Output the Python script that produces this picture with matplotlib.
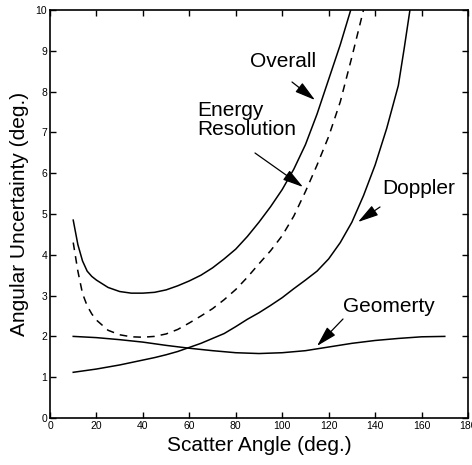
import matplotlib
matplotlib.use("Agg")
import matplotlib.pyplot as plt

# ---- data ----
overall_x = [10, 12, 14, 16, 18, 20, 25, 30, 35, 40, 45, 50, 55, 60, 65, 70, 75, 80, 85, 90,
             95, 100, 105, 110, 115, 120, 125, 129.5]
overall_y = [4.85, 4.25, 3.85, 3.6, 3.47, 3.38, 3.2, 3.1, 3.06, 3.06, 3.08, 3.14, 3.24, 3.36,
             3.5, 3.68, 3.9, 4.14, 4.45, 4.8, 5.18, 5.6, 6.1, 6.7, 7.45, 8.3, 9.15, 10.0]

energy_x = [10, 12, 14, 16, 18, 20, 25, 30, 35, 40, 45, 50, 55, 60, 65, 70, 75, 80, 85, 90,
            95, 100, 105, 110, 115, 120, 125, 130, 135]
energy_y = [4.3, 3.6, 3.05, 2.75, 2.55, 2.4, 2.15, 2.04, 1.99, 1.98, 2.0, 2.06, 2.17, 2.33,
            2.5, 2.68, 2.9, 3.15, 3.45, 3.78, 4.1, 4.47, 4.95, 5.55, 6.2, 6.9, 7.75, 8.85, 10.0]

doppler_x = [10, 20, 30, 40, 45, 50, 55, 60, 65, 70, 75, 80, 85, 90, 95, 100, 105, 110, 115,
             120, 125, 130, 135, 140, 145, 150, 152.5, 155]
doppler_y = [1.12, 1.2, 1.3, 1.42, 1.48, 1.55, 1.63, 1.73, 1.83, 1.95, 2.07, 2.24, 2.42, 2.58,
             2.76, 2.95, 3.17, 3.38, 3.6, 3.9, 4.3, 4.8, 5.45, 6.2, 7.1, 8.15, 9.05, 10.0]

geom_x = [10, 20, 30, 40, 50, 60, 70, 80, 90, 100, 110, 120, 130, 140, 150, 160, 170]
geom_y = [2.0, 1.97, 1.92, 1.86, 1.78, 1.71, 1.65, 1.6, 1.58, 1.6, 1.65, 1.74, 1.83, 1.9,
          1.95, 1.99, 2.0]

x_ticks = [0, 20, 40, 60, 80, 100, 120, 140, 160, 180]
y_ticks = [0, 1, 2, 3, 4, 5, 6, 7, 8, 9, 10]

# ---- figure ----
fig = plt.figure(figsize=(4.72, 4.65), dpi=100)
ax = fig.add_axes([50 / 472, 47 / 465, 418 / 472, 408 / 465])

lw = 1.1
ax.plot(overall_x, overall_y, color="black", lw=lw)
ax.plot(energy_x, energy_y, color="black", lw=lw, linestyle=(0, (5, 4)))
ax.plot(doppler_x, doppler_y, color="black", lw=lw)
ax.plot(geom_x, geom_y, color="black", lw=lw)

ax.set_xlim(0, 180)
ax.set_ylim(0, 10)
ax.set_xticks(x_ticks)
ax.set_yticks(y_ticks)
tick_font = dict(family=["Liberation Sans Narrow", "Liberation Sans"], size=7.5)
ax.set_xticklabels([str(t) for t in x_ticks], fontdict=tick_font)
ax.set_yticklabels([str(t) for t in y_ticks], fontdict=tick_font)
ax.tick_params(direction="in", top=True, right=True, length=4, width=1.0, pad=2)
for s in ax.spines.values():
    s.set_linewidth(1.2)

lab_font = dict(family="Liberation Sans", size=15)
ax.set_xlabel("Scatter Angle (deg.)", fontdict=lab_font, labelpad=4)
ax.set_ylabel("Angular Uncertainty (deg.)", fontdict=lab_font, labelpad=5)

arrow = dict(arrowstyle="-|>,head_length=0.9,head_width=0.25", color="black", lw=0.9,
             mutation_scale=14, shrinkA=0, shrinkB=0)

def px(xp, yp):
    # convert reference pixel coordinates to data coordinates
    return ((xp - 50) / 418 * 180, (418 - yp) / 408 * 10)

ax.text(*px(250, 62), "Overall", fontdict=lab_font, ha="left", va="center")
ax.annotate("", xy=px(315, 100), xytext=px(292, 82), arrowprops=arrow)

ax.text(*px(197, 101), "Energy\nResolution", fontdict=lab_font, ha="left", va="top",
        linespacing=1.0)
ax.annotate("", xy=px(303, 187), xytext=px(255, 153), arrowprops=arrow)

ax.text(*px(382, 189), "Doppler", fontdict=lab_font, ha="left", va="center")
ax.annotate("", xy=px(358, 222), xytext=px(380, 207), arrowprops=arrow)

ax.text(*px(343, 307), "Geomerty", fontdict=lab_font, ha="left", va="center")
ax.annotate("", xy=px(317, 346), xytext=px(343, 319), arrowprops=arrow)

fig.savefig("out.png", dpi=100)
